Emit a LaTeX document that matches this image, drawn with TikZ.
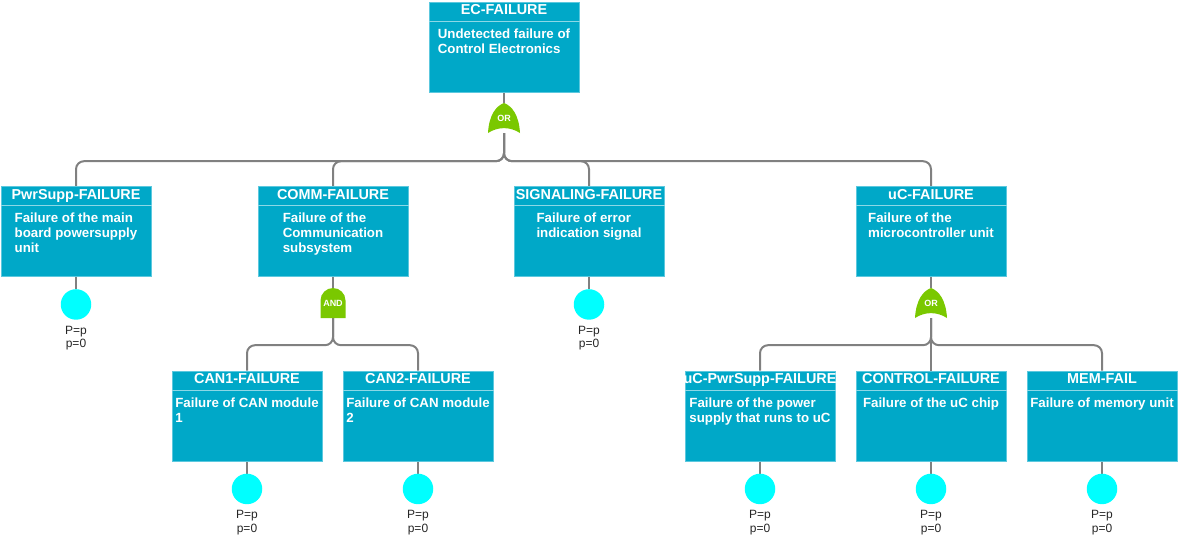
\documentclass[tikz,border=0pt]{standalone}
\usepackage{fontspec}
\setmainfont{Liberation Sans}
\usetikzlibrary{positioning}
\pgfdeclarelayer{background}
\pgfsetlayers{background,main}

\definecolor{evblue}{HTML}{00A8C8}
\definecolor{evedge}{HTML}{5CC8DE}
\definecolor{gategreen}{HTML}{7AC800}
\definecolor{basiccyan}{HTML}{00FFFF}
\definecolor{wiregray}{HTML}{808080}

\tikzset{
  evbox/.style={rectangle, fill=evblue, draw=evedge, line width=1pt,
    minimum width=150pt, minimum height=90pt, inner sep=0pt},
  evtitle/.style={anchor=base, text=white, inner sep=0pt,
    font=\fontsize{14.4}{16}\selectfont\bfseries},
  evdesc/.style={anchor=north, align=left, text=white, inner sep=0pt,
    font=\fontsize{13.3}{15}\selectfont\bfseries},
  sepline/.style={draw=white!55!evblue, line width=1pt},
  wire/.style={draw=wiregray, line width=2pt, rounded corners=8pt},
  gatelabel/.style={text=white, inner sep=0pt, minimum width=31pt, minimum height=30pt,
    font=\fontsize{9}{10}\selectfont\bfseries},
  basic/.style={circle, fill=basiccyan, minimum size=30.5pt, inner sep=0pt},
  prob/.style={align=center, text=black!85, inner sep=0pt,
    font=\fontsize{12}{13.5}\selectfont},
}

% event box: name, centre, title, description
\newcommand{\failevent}[4]{%
  \node[evbox] (#1) at (#2) {};
  \draw[sepline] ([yshift=-19.7pt]#1.north west) -- ([yshift=-19.7pt]#1.north east);
  \node[evtitle] at ([yshift=-13pt]#1.north) {#3};
  \node[evdesc] at ([yshift=-27pt]#1.north) {#4};
}
% gates: name, centre
\newcommand{\orgate}[2]{%
  \begin{scope}[shift={(#2)}]
    \fill[gategreen] (0,-15) .. controls (8,-12) and (15,-3) .. (16,15)
      .. controls (6,8.5) and (-6,8.5) .. (-16,15)
      .. controls (-15,-3) and (-8,-12) .. cycle;
  \end{scope}
  \node[gatelabel] (#1) at (#2) {OR};
}
\newcommand{\andgate}[2]{%
  \begin{scope}[shift={(#2)}]
    \fill[gategreen] (-12.5,15) -- (-12.5,-2.5)
      arc[start angle=180, end angle=360, radius=12.5] -- (12.5,15) -- cycle;
  \end{scope}
  \node[gatelabel] (#1) at (#2) {AND};
}

\begin{document}
\begin{tikzpicture}[x=1pt, y=-1pt]
\useasboundingbox (0,0) rectangle (1179,542);

% top event
\failevent{ec}{504,47}{EC-FAILURE}{Undetected failure of\\Control Electronics}
\orgate{orTop}{504,118}

% second row
\failevent{pwr}{76,231.5}{PwrSupp-FAILURE}{Failure of the main\\board powersupply\\unit}
\failevent{comm}{333,231.5}{COMM-FAILURE}{Failure of the\\Communication\\subsystem}
\failevent{signal}{589,231.5}{SIGNALING-FAILURE}{Failure of error\\indication signal}
\failevent{uc}{931,231.5}{uC-FAILURE}{Failure of the\\microcontroller unit}
\andgate{andComm}{333,303}
\orgate{orUc}{931,303}

% third row
\failevent{can1}{247,416}{CAN1-FAILURE}{Failure of CAN module\\1}
\failevent{can2}{418,416}{CAN2-FAILURE}{Failure of CAN module\\2}
\failevent{ucPwr}{760,416}{uC-PwrSupp-FAILURE}{Failure of the power\\supply that runs to uC}
\failevent{ctrl}{931,416}{CONTROL-FAILURE}{Failure of the uC chip}
\failevent{mem}{1102,416}{MEM-FAIL}{Failure of memory unit}

% basic events
\node[basic, below=12pt of pwr] (pwrBasic) {};
\node[basic, below=12pt of signal] (signalBasic) {};
\node[basic, below=12pt of can1] (can1Basic) {};
\node[basic, below=12pt of can2] (can2Basic) {};
\node[basic, below=12pt of ucPwr] (ucPwrBasic) {};
\node[basic, below=12pt of ctrl] (ctrlBasic) {};
\node[basic, below=12pt of mem] (memBasic) {};
\node[prob, below=6pt of pwrBasic] (pwrProb) {P=p\\p=0};
\node[prob, below=6pt of signalBasic] (signalProb) {P=p\\p=0};
\node[prob, below=6pt of can1Basic] (can1Prob) {P=p\\p=0};
\node[prob, below=6pt of can2Basic] (can2Prob) {P=p\\p=0};
\node[prob, below=6pt of ucPwrBasic] (ucPwrProb) {P=p\\p=0};
\node[prob, below=6pt of ctrlBasic] (ctrlProb) {P=p\\p=0};
\node[prob, below=6pt of memBasic] (memProb) {P=p\\p=0};

\begin{pgfonlayer}{background}
  \draw[wire] (ec.south) -- (orTop.north);
  \draw[wire] (orTop.south) -- ++(0,28) -| (pwr.north);
  \draw[wire] (orTop.south) -- ++(0,28) -| (comm.north);
  \draw[wire] (orTop.south) -- ++(0,28) -| (signal.north);
  \draw[wire] (orTop.south) -- ++(0,28) -| (uc.north);
  \draw[wire] (comm.south) -- (andComm.north);
  \draw[wire] (andComm.south) -- ++(0,27) -| (can1.north);
  \draw[wire] (andComm.south) -- ++(0,27) -| (can2.north);
  \draw[wire] (uc.south) -- (orUc.north);
  \draw[wire] (orUc.south) -- ++(0,27) -| (ucPwr.north);
  \draw[wire] (orUc.south) -- (ctrl.north);
  \draw[wire] (orUc.south) -- ++(0,27) -| (mem.north);
  \draw[wire] (pwr.south) -- (pwrBasic.north);
  \draw[wire] (signal.south) -- (signalBasic.north);
  \draw[wire] (can1.south) -- (can1Basic.north);
  \draw[wire] (can2.south) -- (can2Basic.north);
  \draw[wire] (ucPwr.south) -- (ucPwrBasic.north);
  \draw[wire] (ctrl.south) -- (ctrlBasic.north);
  \draw[wire] (mem.south) -- (memBasic.north);
\end{pgfonlayer}
\end{tikzpicture}
\end{document}
